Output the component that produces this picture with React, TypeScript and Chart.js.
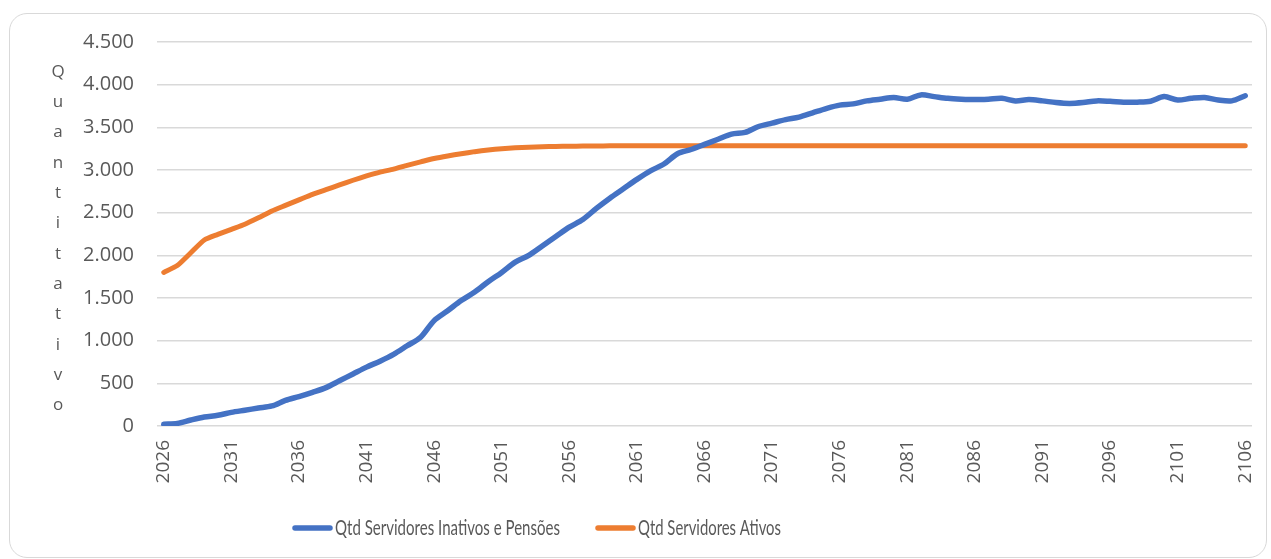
import React, { useEffect, useRef } from 'react';
import { Chart, registerables } from 'chart.js';

Chart.register(...registerables);

const startYear = 2026;
const endYear = 2106;
const years: string[] = Array.from({ length: endYear - startYear + 1 }, (_, i) => String(startYear + i));

const seriesInativosLabel = 'Qtd Servidores Inativos e Pensões';
const seriesAtivosLabel = 'Qtd Servidores Ativos';
const yAxisTitle = 'Quantitativo';

const inativos: number[] = [
  20, 30, 70, 105, 125, 160, 185, 210, 235, 300,
  345, 395, 450, 530, 610, 690, 760, 840, 940, 1040,
  1235, 1350, 1470, 1570, 1690, 1800, 1920, 2000, 2110, 2220,
  2330, 2420, 2550, 2670, 2780, 2890, 2990, 3070, 3190, 3240,
  3300, 3360, 3420, 3440, 3510, 3550, 3590, 3620, 3670, 3720,
  3760, 3775, 3810, 3830, 3850, 3830, 3880, 3860, 3840, 3830,
  3825, 3830, 3840, 3810, 3825, 3810, 3790, 3780, 3790, 3810,
  3805, 3795, 3795, 3805, 3860, 3820, 3840, 3850, 3820, 3810,
  3870,
];

const ativos: number[] = [
  1800, 1880, 2030, 2180, 2245, 2305, 2365, 2440, 2520, 2585,
  2650, 2715, 2770, 2825, 2880, 2930, 2975, 3010, 3055, 3095,
  3135, 3165, 3190, 3215, 3235, 3250, 3260, 3268, 3273, 3276,
  3278, 3280, 3282, 3283, 3283, 3283, 3283, 3283, 3283, 3283,
  3283, 3283, 3283, 3283, 3283, 3283, 3283, 3283, 3283, 3283,
  3283, 3283, 3283, 3283, 3283, 3283, 3283, 3283, 3283, 3283,
  3283, 3283, 3283, 3283, 3283, 3283, 3283, 3283, 3283, 3283,
  3283, 3283, 3283, 3283, 3283, 3283, 3283, 3283, 3283, 3283,
  3283,
];

const yMin = 0;
const yMax = 4500;
const yStep = 500;

const fmt = (v: number) => String(v).replace(/\B(?=(\d{3})+(?!\d))/g, '.');

const TEXT = '#595959';
const GRID = '#d9d9d9';
const BLUE = '#4472C4';
const ORANGE = '#ED7D31';

const verticalTitlePlugin = {
  id: 'verticalTitle',
  afterDraw(chart: any) {
    const ctx = chart.ctx;
    ctx.save();
    ctx.font = '17px "Open Sans"';
    ctx.fillStyle = TEXT;
    ctx.textAlign = 'center';
    ctx.textBaseline = 'middle';
    const letters = yAxisTitle.split('');
    letters.forEach((ch, i) => {
      ctx.fillText(ch, 58, 72 + i * 30.3);
    });
    ctx.restore();
  },
};

// Legend drawn from the datasets (narrow text like the original)
const legendItems = [
  { x: 292, textWidth: 225 },
  { x: 595, textWidth: 143 },
];
const customLegendPlugin = {
  id: 'customLegend',
  afterDraw(chart: any) {
    const ctx = chart.ctx;
    ctx.save();
    ctx.font = '21px Lato';
    ctx.fillStyle = TEXT;
    ctx.textAlign = 'left';
    ctx.textBaseline = 'middle';
    const y = 528;
    chart.data.datasets.forEach((ds: any, i: number) => {
      const it = legendItems[i];
      ctx.strokeStyle = ds.borderColor;
      ctx.lineWidth = 5.5;
      ctx.lineCap = 'round';
      ctx.beginPath();
      ctx.moveTo(it.x + 3, y);
      ctx.lineTo(it.x + 38, y);
      ctx.stroke();
      ctx.fillText(ds.label, it.x + 43, y, it.textWidth);
    });
    ctx.restore();
  },
};

export default function App() {
  const ref = useRef<HTMLCanvasElement | null>(null);

  useEffect(() => {
    if (!ref.current) return;
    const chart = new Chart(ref.current, {
      type: 'line',
      data: {
        labels: years,
        datasets: [
          {
            label: seriesInativosLabel,
            data: inativos,
            borderColor: BLUE,
            backgroundColor: BLUE,
            borderWidth: 5.5,
            pointRadius: 0,
            tension: 0.3,
            borderCapStyle: 'round',
            borderJoinStyle: 'round',
          },
          {
            label: seriesAtivosLabel,
            data: ativos,
            borderColor: ORANGE,
            backgroundColor: ORANGE,
            borderWidth: 5,
            pointRadius: 0,
            tension: 0.2,
            borderCapStyle: 'round',
            borderJoinStyle: 'round',
          },
        ],
      },
      options: {
        animation: false,
        responsive: false,
        layout: { padding: { left: 0, top: 42, right: 19, bottom: 71 } },
        plugins: {
          tooltip: { enabled: false },
          legend: { display: false },
        },
        scales: {
          x: {
            offset: true,
            grid: { display: false, drawTicks: false },
            border: { display: false },
            ticks: {
              autoSkip: false,
              minRotation: 90,
              maxRotation: 90,
              padding: 14,
              color: TEXT,
              font: { family: '"Open Sans", sans-serif', size: 19 },
              callback: (_v: any, i: number) => (i % 5 === 0 ? years[i] : null),
            },
            afterFit: (scale: any) => {
              scale.height = 62;
              scale.paddingLeft = 0;
              scale.paddingRight = 0;
            },
          },
          y: {
            min: yMin,
            max: yMax,
            grid: { color: GRID, lineWidth: 1.5, drawTicks: false },
            border: { display: false },
            ticks: {
              stepSize: yStep,
              padding: 23,
              color: TEXT,
              font: { family: '"Open Sans", sans-serif', size: 20 },
              callback: (v: any) => fmt(Number(v)),
            },
            afterFit: (scale: any) => {
              scale.width = 157;
              scale.paddingTop = 0;
              scale.paddingBottom = 0;
            },
          },
        },
      },
      plugins: [verticalTitlePlugin, customLegendPlugin],
    });
    return () => chart.destroy();
  }, []);

  return (
    <div style={{ position: 'fixed', left: 0, top: 0, width: 1271, height: 559, background: '#fff' }}>
      <div
        style={{
          position: 'absolute',
          left: 9,
          top: 13,
          width: 1258,
          height: 545,
          border: '1px solid #d9d9d9',
          borderRadius: 18,
          boxSizing: 'border-box',
        }}
      />
      <canvas ref={ref} width={1271} height={559} style={{ position: 'absolute', left: 0, top: 0 }} />
    </div>
  );
}
